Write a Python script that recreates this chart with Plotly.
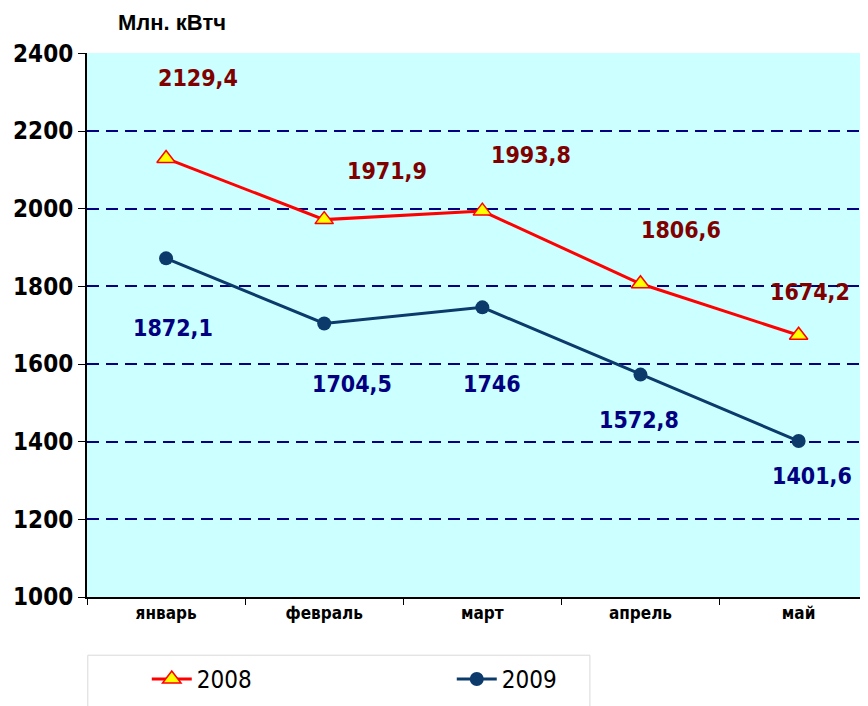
import plotly.graph_objects as go

# данные
months = ["январь", "февраль", "март", "апрель", "май"]
vals_2008 = [2129.4, 1971.9, 1993.8, 1806.6, 1674.2]
vals_2009 = [1872.1, 1704.5, 1746.0, 1572.8, 1401.6]
labels_2008 = ["2129,4", "1971,9", "1993,8", "1806,6", "1674,2"]
labels_2009 = ["1872,1", "1704,5", "1746", "1572,8", "1401,6"]
y_ticks = [1000, 1200, 1400, 1600, 1800, 2000, 2200, 2400]

# смещения подписей (px)
off_2008 = [(32, 80), (63, 49), (49, 56), (41, 54), (11, 43)]
off_2009 = [(7, -70), (28, -61), (10, -77), (-1, -45), (13, -35)]

NARROW = "DejaVu Sans Condensed, Roboto Condensed, Liberation Sans Narrow, Arial Narrow, sans-serif"

fig = go.Figure()
fig.add_trace(go.Scatter(
    x=months, y=vals_2008, name="2008", mode="lines+markers",
    line=dict(color="#FF0000", width=3),
    marker=dict(symbol="triangle-up", size=16, color="#FFFF00",
                line=dict(color="#FF0000", width=1.5)),
))
fig.add_trace(go.Scatter(
    x=months, y=vals_2009, name="2009", mode="lines+markers",
    line=dict(color="#0B3A6B", width=3),
    marker=dict(symbol="circle", size=14, color="#0B3A6B"),
))

for m, v, t, (dx, dy) in zip(months, vals_2008, labels_2008, off_2008):
    fig.add_annotation(x=m, y=v, text=t, showarrow=False, xshift=dx, yshift=dy,
                       font=dict(family=NARROW, size=23, color="#800000", weight="bold"))
for m, v, t, (dx, dy) in zip(months, vals_2009, labels_2009, off_2009):
    fig.add_annotation(x=m, y=v, text=t, showarrow=False, xshift=dx, yshift=dy,
                       font=dict(family=NARROW, size=23, color="#000080", weight="bold"))

fig.add_annotation(x=0.037, y=1.0, xref="paper", yref="paper", yshift=31,
                   text="<b>Млн. кВтч</b>", showarrow=False, xanchor="left", yanchor="middle",
                   font=dict(family="Liberation Sans, Arial, sans-serif", size=22, color="#000000"))

# рамка легенды
fig.add_shape(type="rect", xref="paper", yref="paper",
              x0=0.001, x1=0.631, y0=-0.107, y1=-0.25,
              line=dict(color="#D9D9D9", width=1), fillcolor="white", layer="below")

fig.update_layout(
    width=876, height=706,
    margin=dict(l=79, r=0, t=45, b=117),
    paper_bgcolor="white",
    plot_bgcolor="#CCFFFF",
    showlegend=True,
    legend=dict(orientation="h", x=0.075, xanchor="left", y=-0.11, yanchor="top",
                bgcolor="rgba(0,0,0,0)", borderwidth=0,
                entrywidth=250, entrywidthmode="pixels",
                font=dict(family=NARROW, size=24, color="#000000"),
                itemwidth=40),
)
fig.update_xaxes(
    range=[-0.5, 4.54], showline=True, linecolor="#000000", linewidth=2,
    ticks="outside", tickson="boundaries", ticklen=6, tickcolor="#000000",
    showgrid=False, automargin=False,
    tickfont=dict(family=NARROW, size=17, color="#000000", weight="bold"),
)
fig.update_yaxes(
    range=[1000, 2401], tickvals=y_ticks, showline=True, linecolor="#000000", linewidth=2,
    ticks="outside", ticklen=7, tickcolor="#000000",
    showgrid=True, gridcolor="#000080", griddash="12px,7px", gridwidth=2,
    zeroline=False, automargin=False,
    tickfont=dict(family=NARROW, size=24, color="#000000", weight="bold"),
)

fig.write_html("out.html")
